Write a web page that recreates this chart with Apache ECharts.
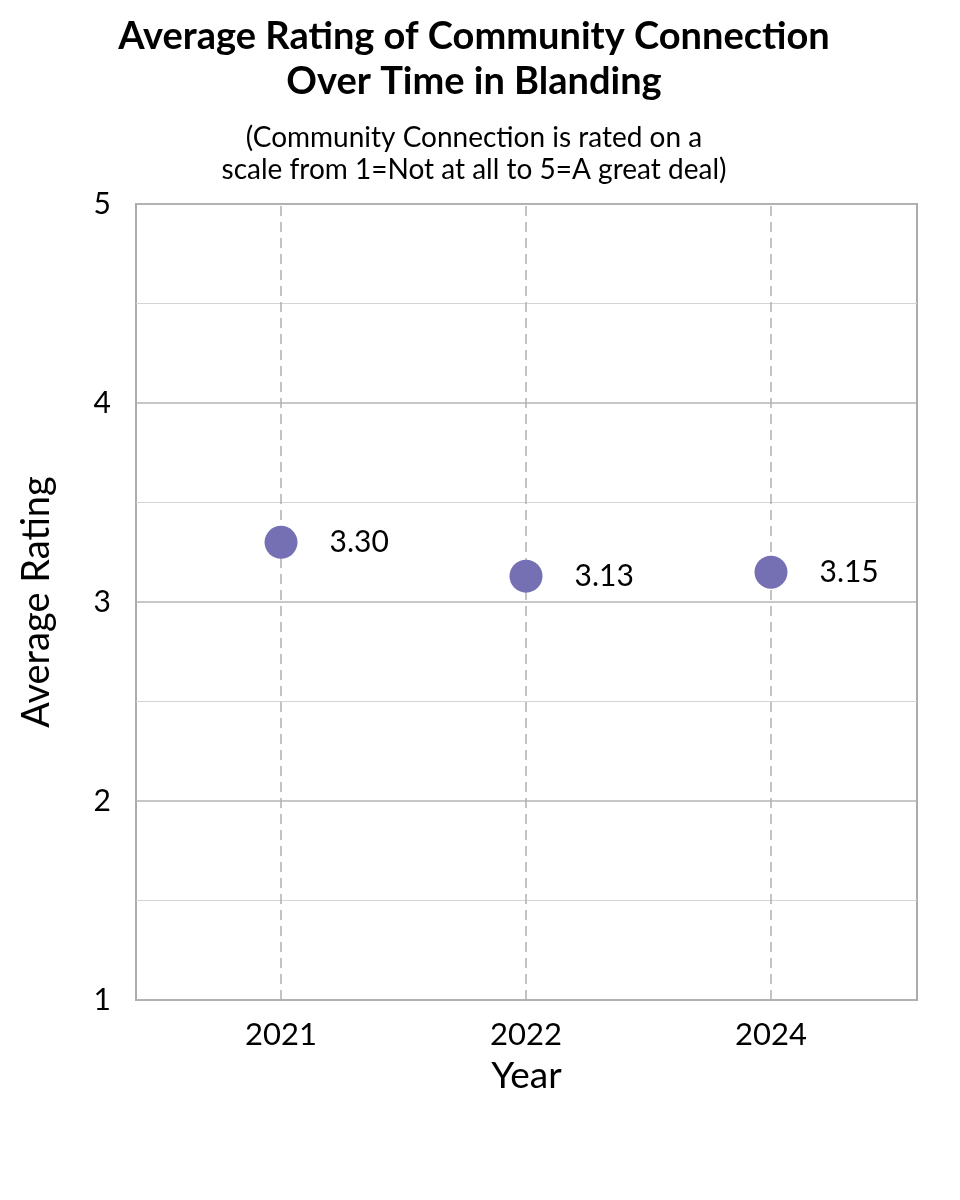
<!DOCTYPE html>
<html><head><meta charset="utf-8">
<script src="https://cdn.jsdelivr.net/npm/echarts@6/dist/echarts.min.js"></script>
<style>html,body{margin:0;padding:0;background:#fff}#c{width:960px;height:1200px}</style>
</head><body><div id="c"></div>
<script>
const years = ['2021', '2022', '2024'];
const ratings = [3.30, 3.13, 3.15];
const yTicks = [1, 2, 3, 4, 5];

const FONT = 'Lato, "Open Sans", sans-serif';
const chart = echarts.init(document.getElementById('c'));
chart.setOption({
  backgroundColor: '#fff',
  animation: false,
  title: [
    { text: 'Average Rating of Community Connection\nOver Time in Blanding', left: 469, top: 9, textAlign: 'center',
      textStyle: { fontFamily: FONT, fontSize: 38, fontWeight: 'bold', color: '#000', lineHeight: 45 } },
    { text: '(Community Connection is rated on a\nscale from 1=Not at all to 5=A great deal)', left: 469, top: 117, textAlign: 'center',
      textStyle: { fontFamily: FONT, fontSize: 28, fontWeight: 'normal', color: '#000', lineHeight: 32 } }
  ],
  grid: { left: 136, right: 43, top: 204, bottom: 200, show: true, borderColor: '#ababab', borderWidth: 2, containLabel: false },
  xAxis: {
    type: 'value', min: -0.592, max: 2.596,
    name: 'Year', nameLocation: 'middle', nameGap: 58,
    nameTextStyle: { fontFamily: FONT, fontSize: 37, color: '#000' },
    axisLine: { show: false }, axisTick: { show: false }, splitLine: { show: false },
    axisLabel: { customValues: [0, 1, 2], formatter: v => years[Math.round(v)], fontFamily: FONT, fontSize: 31, color: '#000', margin: 19 }
  },
  yAxis: {
    type: 'value', min: 1, max: 5, interval: 1,
    name: 'Average Rating', nameLocation: 'middle', nameGap: 80,
    nameTextStyle: { fontFamily: FONT, fontSize: 38, color: '#000' },
    axisLine: { show: false }, axisTick: { show: false },
    axisLabel: { customValues: yTicks, fontFamily: FONT, fontSize: 30, color: '#000', margin: 25 },
    splitLine: { show: true, lineStyle: { color: '#b4b4b4', width: 1.5 } },
    minorTick: { show: false, splitNumber: 2 },
    minorSplitLine: { show: true, lineStyle: { color: '#d4d4d4', width: 1 } }
  },
  series: [{
    type: 'scatter',
    data: ratings.map((r, i) => [i, r]),
    symbolSize: 33,
    itemStyle: { color: '#7570b3', opacity: 1 },
    label: { show: true, position: 'right', distance: 32, formatter: p => p.value[1].toFixed(2),
      fontFamily: FONT, fontSize: 30, color: '#000' },
    markLine: {
      silent: true, symbol: 'none', label: { show: false },
      lineStyle: { color: '#b0b0b0', type: [10, 6], width: 1.5 },
      data: years.map((y, i) => ({ xAxis: i }))
    },
    z: 5
  }]
});
</script></body></html>
